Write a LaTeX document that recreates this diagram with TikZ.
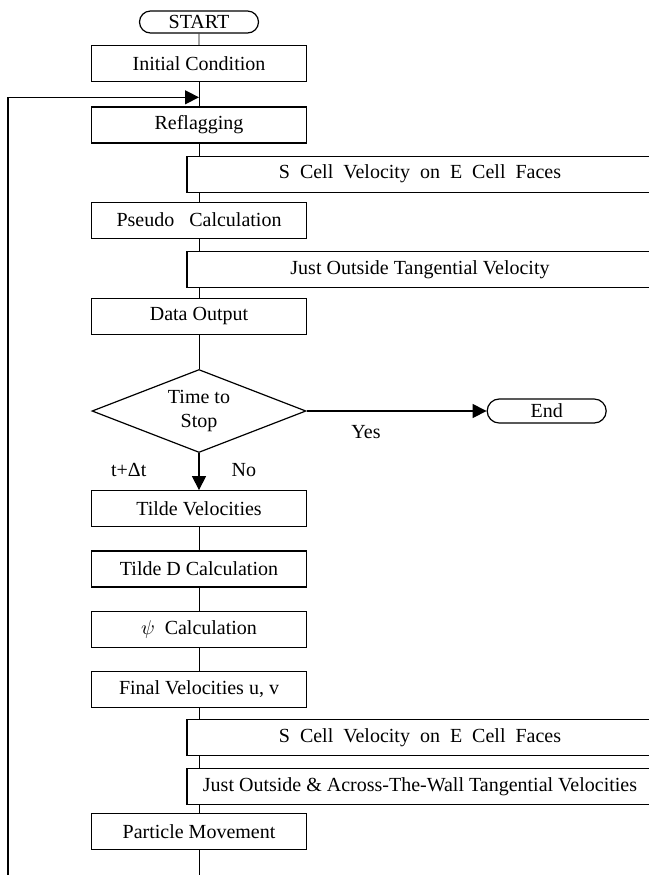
\documentclass[tikz,border=0pt]{standalone}
\usepackage{fontspec}
\setmainfont{Liberation Serif}
\usetikzlibrary{arrows.meta, positioning, shapes.geometric, shapes.misc, backgrounds}

\begin{document}
\begin{tikzpicture}[
      node distance=11.5pt,
      box/.style={draw, fill=white, minimum width=107.5pt, minimum height=18pt, inner sep=1pt},
      sidebox/.style={draw, fill=white, minimum width=233pt, minimum height=18pt,
                      inner sep=1pt, anchor=north west},
      term/.style={draw, fill=white, rounded rectangle, minimum width=60.5pt,
                   minimum height=11pt, inner sep=0.5pt},
      decide/.style={draw, fill=white, diamond, aspect=2.6, minimum width=107pt,
                     minimum height=41.5pt, inner sep=0pt, align=center},
      lbl/.style={inner sep=2pt},
      >={Triangle[length=7pt, width=7pt]}, line width=0.6pt]
    \useasboundingbox (0,0) rectangle (324.5pt,-437.5pt);
    \node[term] (start) at (99.5pt,-11pt) {START};
    \node[box, below=5.75pt of start] (init) {Initial Condition};
    \node[box, below=12pt of init] (reflag) {Reflagging};
    \node[sidebox] (scella) at ([xshift=47.75pt, yshift=-6pt]reflag.south west)
      {S\enspace Cell\enspace Velocity\enspace on\enspace E\enspace Cell\enspace Faces};
    \node[box, below=29pt of reflag] (pseudo) {Pseudo\hspace{7.5pt}Calculation};
    \node[sidebox] (jouta) at ([xshift=47.75pt, yshift=-6pt]pseudo.south west)
      {Just Outside Tangential Velocity};
    \node[box, below=29.5pt of pseudo] (dataout) {Data Output};
    \node[decide, below=17pt of dataout] (stop) {Time to\\Stop};
    \node[term, right=90pt of stop, minimum height=12pt] (finish) {End};
    \node[box, below=18.5pt of stop] (tildev) {Tilde Velocities};
    \node[box, below=of tildev] (tilded) {Tilde D Calculation};
    \node[box, below=of tilded] (psicalc) {$\psi$\enspace Calculation};
    \node[box, below=of psicalc] (finalv) {Final Velocities u, v};
    \node[sidebox] (scellb) at ([xshift=47.75pt, yshift=-5.5pt]finalv.south west)
      {S\enspace Cell\enspace Velocity\enspace on\enspace E\enspace Cell\enspace Faces};
    \node[sidebox] (joutb) at ([yshift=-6pt]scellb.south west)
      {Just Outside \& Across-The-Wall Tangential Velocities};
    \node[box, below=52.5pt of finalv] (particle) {Particle Movement};
    \coordinate (loopin) at ([yshift=-7.5pt]init.south);
    \coordinate (loopout) at (4pt,-437.5pt);
    \coordinate (tail) at (particle.south |- loopout);
    \begin{scope}[on background layer]
      \draw (start) -- (init);
      \draw (init) -- (reflag);
      \draw (reflag) -- (pseudo);
      \draw (pseudo) -- (dataout);
      \draw (dataout) -- (stop);
      \draw (tildev) -- (tilded);
      \draw (tilded) -- (psicalc);
      \draw (psicalc) -- (finalv);
      \draw (finalv) -- (particle);
      \draw (particle) -- (tail);
    \end{scope}
    \draw[->] (stop) -- node[lbl, below=5pt, pos=0.33] (yes) {Yes} (finish);
    \draw[->] (stop) -- node[lbl, pos=0.45, left=24pt] (dt) {t+Δt}
                        node[lbl, pos=0.45, right=14pt] (no) {No} (tildev);
    \draw[->] (loopout) |- (loopin);
\end{tikzpicture}
\end{document}
